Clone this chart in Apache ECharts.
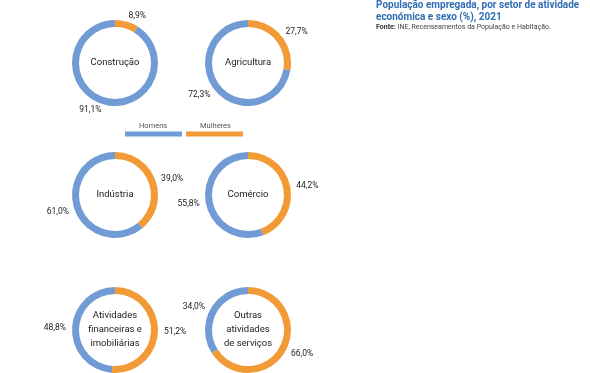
<!DOCTYPE html>
<html><head><meta charset="utf-8">
<script src="https://cdn.jsdelivr.net/npm/echarts@6/dist/echarts.min.js"></script>
<style>html,body{margin:0;padding:0;background:#fff}#c{width:590px;height:373px}</style>
</head><body><div id="c"></div>
<script>
const sectors = ['Construção', 'Agricultura', 'Indústria', 'Comércio', 'Atividades\nfinanceiras e\nimobiliárias', 'Outras\natividades\nde serviços'];
const mulheres = [8.9, 27.7, 39.0, 44.2, 51.2, 66.0];
const homens = [91.1, 72.3, 61.0, 55.8, 48.8, 34.0];
const seriesNames = ['Homens', 'Mulheres'];
const colors = { Homens: '#709bd5', Mulheres: '#f29a36' };
const centers = [[115, 63], [248, 63], [115, 195], [248, 195], [115, 330], [248, 330]];

const fmt = v => v.toFixed(1).replace('.', ',') + '%';
const series = sectors.map((s, i) => ({
  type: 'pie',
  name: s,
  center: centers[i],
  radius: [36, 43],
  startAngle: 90,
  clockwise: true,
  silent: true,
  avoidLabelOverlap: false,
  label: { show: true, position: 'outside', formatter: p => fmt(p.value), fontSize: 8.5, color: '#222', fontFamily: 'Roboto', distanceToLabelLine: 0 },
  labelLine: { show: false, length: 6, length2: 0 },
  itemStyle: { borderWidth: 0 },
  data: [
    { name: 'Mulheres', value: mulheres[i], itemStyle: { color: colors.Mulheres } },
    { name: 'Homens', value: homens[i], itemStyle: { color: colors.Homens } }
  ]
}));

const titles = [
  { text: 'População empregada, por setor de atividade\neconómica e sexo (%), 2021',
    left: 376, top: -1, padding: 0,
    textStyle: { color: '#2f6db3', fontSize: 10, fontWeight: 'bold', fontFamily: 'Roboto', lineHeight: 12 } },
  { text: '{b|Fonte:} INE, Recenseamentos da População e Habitação.',
    left: 376, top: 24, padding: 0,
    textStyle: { fontSize: 7, color: '#444', fontWeight: 'normal', fontFamily: 'Roboto', rich: { b: { fontWeight: 'bold', fontSize: 7, color: '#333', fontFamily: 'Roboto' } } } }
].concat(sectors.map((s, i) => ({
  text: s, left: centers[i][0], top: centers[i][1], textAlign: 'center', textVerticalAlign: 'middle', padding: 0,
  textStyle: { fontSize: 9.5, color: '#222', fontWeight: 'normal', fontFamily: 'Roboto', lineHeight: 14 }
})));

const chart = echarts.init(document.getElementById('c'), null, { renderer: 'canvas' });
chart.setOption({
  backgroundColor: '#fff',
  animation: false,
  title: titles,
  legend: {
    data: seriesNames.map(n => ({ name: n, itemStyle: { color: colors[n] } })),
    left: 125, top: 122, padding: 0,
    icon: 'rect', itemWidth: 57, itemHeight: 5, itemGap: 4,
    selectedMode: false,
    formatter: n => '{a|' + n + '}\n{a|}',
    textStyle: { fontSize: 7.5, color: '#555', fontFamily: 'Roboto', padding: [0, 0, 0, -48],
      rich: { a: { fontSize: 7.5, color: '#555', fontFamily: 'Roboto', lineHeight: 16 } } }
  },
  series: series
});
</script></body></html>
